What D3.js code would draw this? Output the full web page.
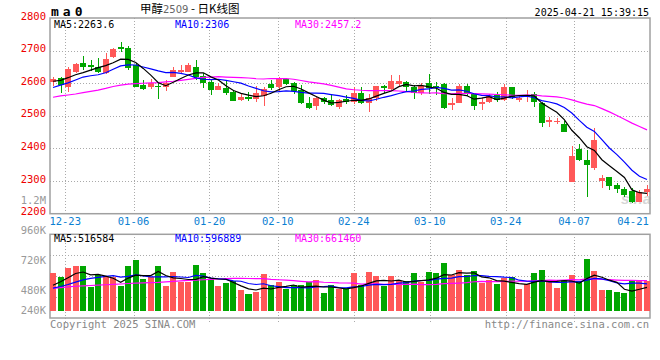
<!DOCTYPE html>
<html>
<head>
<meta charset="utf-8">
<script src="https://cdn.jsdelivr.net/npm/d3@7/dist/d3.min.js"></script>
<style>
  body { margin: 0; background: #fff; }
  svg text { font-family: "DejaVu Sans Mono", "Liberation Mono", monospace; font-size: 10px; }
</style>
</head>
<body>
<svg id="chart" width="660" height="360"></svg>
<script>
// daily candles, 12-19 .. 04-21
var opens  = [2603,2617,2588,2633,2662,2656,2651,2630,2679,2712, 2707,2656,2595,2589,2592,2589,2620,2634,2635,2651,
              2623,2604,2579,2584,2574,2549,2559,2552,2562,2598, 2589,2612,2601,2579,2540,2530,2556,2549,2528,2553,
              2542,2571,2539,2554,2592,2583,2598,2604,2589,2569, 2602,2592,2597,2533,2540,2592,2566,2535,2543,2564,
              2549,2589,2549,2557,2566,2540,2480,2481,2475,2298, 2398,2365,2341,2301,2313,2288,2276,2271,2237,2267];
var highs  = [2618,2620,2651,2661,2684,2671,2676,2692,2708,2727, 2714,2661,2610,2612,2605,2610,2650,2655,2661,2672,
              2632,2611,2600,2610,2580,2569,2574,2592,2587,2610, 2620,2615,2605,2594,2559,2559,2559,2564,2551,2564,
              2589,2589,2567,2592,2595,2625,2625,2607,2595,2600, 2627,2605,2600,2554,2597,2597,2569,2554,2567,2574,
              2598,2589,2564,2579,2574,2541,2497,2494,2484,2408, 2414,2395,2462,2319,2313,2293,2283,2278,2272,2288];
var lows   = [2590,2571,2574,2631,2641,2638,2630,2627,2676,2697, 2641,2588,2579,2581,2553,2576,2618,2627,2634,2610,
              2585,2564,2578,2563,2544,2547,2546,2542,2530,2580, 2576,2594,2567,2537,2521,2517,2537,2530,2522,2537,
              2536,2537,2512,2546,2571,2576,2590,2574,2552,2564, 2566,2563,2521,2518,2538,2561,2518,2517,2540,2543,
              2546,2551,2543,2543,2526,2467,2467,2475,2451,2298, 2362,2252,2334,2278,2273,2263,2252,2232,2235,2254];
var closes = [2613,2595,2644,2659,2651,2651,2635,2674,2704,2706, 2646,2589,2582,2602,2589,2600,2641,2641,2656,2620,
              2602,2579,2592,2569,2546,2559,2552,2569,2582,2585, 2612,2598,2577,2540,2525,2556,2543,2533,2549,2543,
              2571,2540,2556,2592,2586,2607,2607,2589,2571,2592, 2584,2587,2525,2540,2592,2567,2531,2541,2562,2549,
              2589,2558,2554,2564,2541,2479,2487,2484,2452,2377, 2365,2349,2426,2310,2286,2277,2257,2235,2267,2277];
var volumes = [769000,687000,871000,912000,912000,483000,728000,694000,694000,504000,
               912000,1034000,647000,694000,912000,504000,789000,592000,592000,932000,
               769000,640000,504000,565000,606000,422000,341000,381000,749000,524000,
               585000,443000,524000,524000,585000,626000,361000,524000,443000,463000,
               769000,524000,789000,708000,504000,708000,606000,606000,769000,585000,
               789000,769000,973000,728000,830000,728000,810000,565000,626000,545000,
               667000,687000,443000,545000,769000,830000,585000,463000,626000,728000,
               606000,1055000,810000,422000,422000,381000,361000,626000,606000,606000];

// moving-average values before the window is full
var ma5Head  = [2606,2609,2617,2626];
var ma10Head = [2587,2594,2601,2610,2619,2623,2626,2632,2643];
var ma30Head = [2557,2561,2564,2567,2571,2575,2579,2584,2590,2594,2597,2599,2600,2601,2602,
                2604,2606,2609,2612,2615,2618,2619,2620,2619,2618,2617,2616,2614,2613];
var volMa5Head  = [560000,630000,715000,800000];
var volMa10Head = [500000,535000,575000,625000,670000,700000,720000,740000,755000];
var volMa30Head = [498000,510000,525000,540000,548000,555000,562000,570000,578000,586000,
                   596000,603000,608000,614000,620000,630000,640000,650000,658000,665000,
                   672000,680000,688000,695000,702000,700000,698000,696000,694000];

var priceTicks = [2800,2700,2600,2500,2400,2300,2200];
var volTicks = [1200000,960000,720000,480000,240000];
var volTickLabels = ['1.2M','960K','720K','480K','240K'];
var dateTicks = ['12-23','01-06','01-20','02-10','02-24','03-10','03-24','04-07','04-21'];
var dateTickIdx = [2,11,21,30,40,50,60,69,79];
var priceLegend = ['MA5:2263.6','MA10:2306','MA30:2457.2'];
var volLegend = ['MA5:516584','MA10:596889','MA30:661460'];
var maColors = ['#000000','#0000ff','#ff00ff'];

var upColor = '#ff5858', downColor = '#00a600',
    gridColor = '#aaaaaa', frameColor = '#a0a0a0';

var svg = d3.select('#chart');
var left = 50, right = 650,
    pTop = 18, pBottom = 213.7,
    vTop = 234.3, vBottom = 318, vBase = 310.7;

var idx = d3.range(closes.length);
var x = d3.scaleBand().domain(idx).range([left, right]).paddingInner(0.2);
var xGrid = d3.scalePoint().domain(idx).range([left, right]);
var y = d3.scaleLinear().domain([2200, 2800]).range([pBottom, pTop]);
var yv = d3.scaleLinear().domain([0, 1200000]).range([vBase, vBase - 1200000 / 20400]);
var yvLabel = d3.scaleLinear().domain([0, 1200000]).range([350, 201]);

function movingAvg(arr, n, head) {
    return arr.map(function (d, i) {
        return i < n - 1 ? head[i] : d3.mean(arr.slice(i - n + 1, i + 1));
    });
}
function cx(i) { return Math.round(x(i) + x.bandwidth() / 2) + 0.5; }
function isUp(i) { return closes[i] >= opens[i]; }

// header
svg.append('text').attr('x', 51).attr('y', 16)
   .style('font-size', '13px').style('font-weight', 'bold').style('letter-spacing', '4px')
   .text('ma0');
var title = svg.append('text').attr('x', 140).attr('y', 13)
   .style('font-family', '"Noto Sans CJK SC", sans-serif').style('font-size', '11.5px');
title.append('tspan').text('甲醇');
title.append('tspan').attr('fill', '#666').style('font-family', '"DejaVu Sans", sans-serif')
     .style('font-size', '10px').text('2509');
title.append('tspan').text(' - 日K线图');
svg.append('text').attr('x', 649).attr('y', 15.5).attr('text-anchor', 'end')
   .text('2025-04-21 15:39:15');

// sina watermark
svg.append('text').attr('x', 621).attr('y', 204)
   .style('font-family', '"Liberation Sans", sans-serif').style('font-size', '15px')
   .style('font-weight', 'bold').style('font-style', 'italic')
   .attr('fill', '#d6d6d6').text('sina');

// grid
var grid = svg.append('g').attr('stroke', gridColor).attr('stroke-dasharray', '1,2')
              .attr('shape-rendering', 'crispEdges');
grid.selectAll('.hp').data(priceTicks.slice(1, -1)).enter().append('line')
    .attr('x1', left).attr('x2', right)
    .attr('y1', function (d) { return Math.round(y(d)) + 0.5; })
    .attr('y2', function (d) { return Math.round(y(d)) + 0.5; });
var vq = d3.range(1, 4).map(function (k) { return vTop + (vBottom - vTop) * k / 4; });
grid.selectAll('.hv').data(vq).enter().append('line')
    .attr('x1', left).attr('x2', right)
    .attr('y1', function (d) { return Math.round(d) + 0.5; })
    .attr('y2', function (d) { return Math.round(d) + 0.5; });
grid.selectAll('.vp').data(dateTickIdx.slice(0, -1)).enter().append('line')
    .attr('x1', function (d) { return Math.round(xGrid(d)) + 0.5; })
    .attr('x2', function (d) { return Math.round(xGrid(d)) + 0.5; })
    .attr('y1', pTop).attr('y2', pBottom);
grid.selectAll('.vv').data(dateTickIdx.slice(0, -1)).enter().append('line')
    .attr('x1', function (d) { return Math.round(xGrid(d)) + 0.5; })
    .attr('x2', function (d) { return Math.round(xGrid(d)) + 0.5; })
    .attr('y1', vTop).attr('y2', vBottom + 4);

// frames
[[pTop, pBottom], [vTop, vBottom]].forEach(function (p) {
    svg.append('rect').attr('x', left).attr('y', p[0])
       .attr('width', right - left).attr('height', p[1] - p[0])
       .attr('fill', 'none').attr('stroke', frameColor).attr('stroke-width', 1.5);
});

// axis labels
svg.selectAll('.pl').data(priceTicks).enter().append('text')
   .attr('x', 46).attr('y', function (d) { return y(d) + 1.6; })
   .attr('text-anchor', 'end').attr('fill', '#ee0000')
   .style('font-size', '10.5px').text(function (d) { return d; });
svg.selectAll('.vl').data(volTicks).enter().append('text')
   .attr('x', 46).attr('y', function (d) { return Math.min(yvLabel(d), 310.5) + 3.4; })
   .attr('text-anchor', 'end').attr('fill', '#999')
   .style('font-size', '10.5px').text(function (d, i) { return volTickLabels[i]; });
svg.selectAll('.dl').data(dateTickIdx).enter().append('text')
   .attr('x', function (d) { return Math.min(xGrid(d), right - 17); })
   .attr('y', 225).attr('text-anchor', 'middle').attr('fill', '#0a80d2')
   .style('font-size', '10.5px').text(function (d, i) { return dateTicks[i]; });

// candles
var candles = svg.append('g').attr('shape-rendering', 'crispEdges');
candles.selectAll('line').data(idx).enter().append('line')
    .attr('x1', cx).attr('x2', cx)
    .attr('y1', function (i) { return y(highs[i]); })
    .attr('y2', function (i) { return y(lows[i]); })
    .attr('stroke', function (i) { return isUp(i) ? upColor : downColor; });
candles.selectAll('rect').data(idx).enter().append('rect')
    .attr('x', function (i) { return x(i); })
    .attr('width', x.bandwidth())
    .attr('y', function (i) { return y(Math.max(opens[i], closes[i])); })
    .attr('height', function (i) { return Math.max(1, Math.abs(y(opens[i]) - y(closes[i]))); })
    .attr('fill', function (i) { return isUp(i) ? upColor : downColor; });

// volume bars
svg.append('g').attr('shape-rendering', 'crispEdges')
   .selectAll('rect').data(idx).enter().append('rect')
   .attr('x', function (i) { return x(i); })
   .attr('width', x.bandwidth())
   .attr('y', function (i) { return yv(volumes[i]); })
   .attr('height', function (i) { return yv(0) - yv(volumes[i]); })
   .attr('fill', function (i) { return isUp(i) ? upColor : downColor; });

// moving averages
var priceMas = [movingAvg(closes, 5, ma5Head), movingAvg(closes, 10, ma10Head), movingAvg(closes, 30, ma30Head)];
var volMas = [movingAvg(volumes, 5, volMa5Head), movingAvg(volumes, 10, volMa10Head), movingAvg(volumes, 30, volMa30Head)];
var priceLine = d3.line().x(function (d, i) { return x(i) + x.bandwidth() / 2; }).y(function (d) { return y(d); });
var volLine = d3.line().x(function (d, i) { return x(i) + x.bandwidth() / 2; }).y(function (d) { return yv(d) + 2; });
[2, 1, 0].forEach(function (k) {
    svg.append('path').attr('d', priceLine(priceMas[k]))
       .attr('fill', 'none').attr('stroke', maColors[k]).attr('stroke-width', 1.2);
    svg.append('path').attr('d', volLine(volMas[k]))
       .attr('fill', 'none').attr('stroke', maColors[k]).attr('stroke-width', 1.2);
});

// legends
var legendX = [54, 175, 295];
[[priceLegend, 28.3], [volLegend, 241.7]].forEach(function (l) {
    svg.selectAll(null).data(l[0]).enter().append('text')
       .attr('x', function (d, i) { return legendX[i]; }).attr('y', l[1])
       .attr('fill', function (d, i) { return maColors[i]; })
       .text(function (d) { return d; });
});

// footer
svg.append('text').attr('x', 50).attr('y', 327.5).attr('fill', '#888')
   .style('font-size', '10.5px').text('Copyright 2025 SINA.COM');
svg.append('text').attr('x', 649).attr('y', 327.5).attr('text-anchor', 'end').attr('fill', '#888')
   .style('font-size', '10.5px').text('http://finance.sina.com.cn');
</script>
</body>
</html>
